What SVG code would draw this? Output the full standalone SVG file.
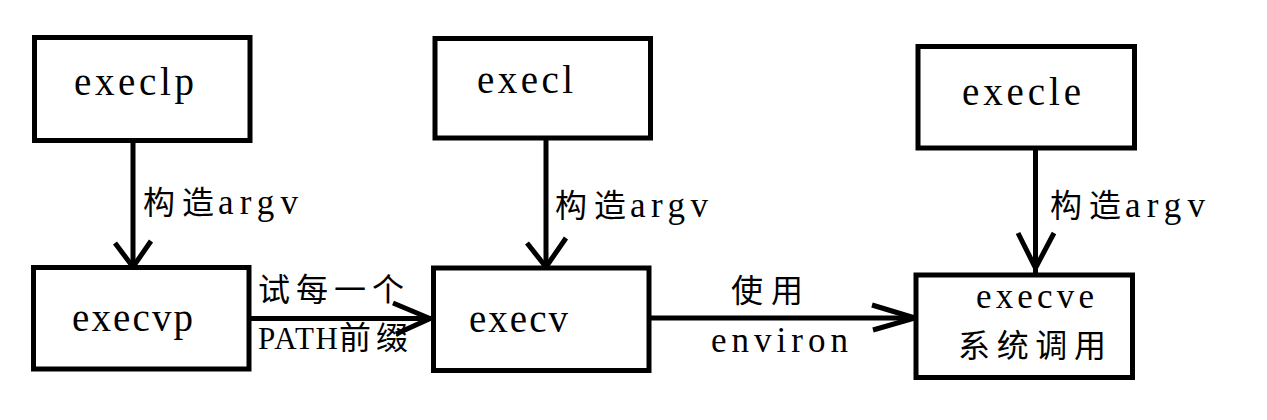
<svg xmlns="http://www.w3.org/2000/svg" width="1267" height="420" viewBox="0 0 1267 420">
<style>
.box{fill:#fff;stroke:#000;stroke-width:5}
.t{font-family:"Liberation Serif","Noto Sans CJK SC",serif;fill:#000}
.n{font-size:39px}
.l{font-size:32px}
.m{font-size:35px}
.p{font-size:31px}
.c{fill:none;stroke:#000;stroke-width:5}
</style>
<rect width="1267" height="420" fill="#fff"/>
<g id="connectors">
<line class="c" x1="133" y1="140" x2="133" y2="266"/>
<polyline class="c" points="115,243 133,267 151,241"/>
<line class="c" x1="546" y1="138" x2="546" y2="266"/>
<polyline class="c" points="527,243 546,267 566,238"/>
<line class="c" x1="1035.5" y1="148" x2="1035.5" y2="273"/>
<polyline class="c" points="1018,233 1035.5,268 1054,233"/>
<line class="c" x1="249" y1="318.5" x2="431" y2="318.5"/>
<polyline class="c" points="393,303 430,318.5 396,334"/>
<line class="c" x1="649" y1="318" x2="915" y2="318"/>
<polyline class="c" points="872,305 915,318 873,330"/>
<text class="t l" y="214"><tspan x="143" textLength="71" lengthAdjust="spacing">构造</tspan><tspan class="m" x="218" textLength="80" lengthAdjust="spacing">argv</tspan></text>
<text class="t l" y="217"><tspan x="555" textLength="71" lengthAdjust="spacing">构造</tspan><tspan class="m" x="630" textLength="78" lengthAdjust="spacing">argv</tspan></text>
<text class="t l" y="217"><tspan x="1050" textLength="71" lengthAdjust="spacing">构造</tspan><tspan class="m" x="1125" textLength="80" lengthAdjust="spacing">argv</tspan></text>
<text class="t l" x="258" y="301" textLength="146" lengthAdjust="spacing">试每一个</text>
<text class="t l" y="349"><tspan class="p" x="258" textLength="80" lengthAdjust="spacing">PATH</tspan><tspan x="339" textLength="69" lengthAdjust="spacing">前缀</tspan></text>
<text class="t l" x="731" y="302" textLength="72" lengthAdjust="spacing">使用</text>
<text class="t m" x="711" y="352" textLength="137" lengthAdjust="spacing">environ</text>
</g>
<g id="execlp">
<rect class="box" x="34.5" y="37.5" width="215.5" height="103"/>
<text class="t n" x="74" y="95" textLength="120" lengthAdjust="spacing">execlp</text>
</g>
<g id="execl">
<rect class="box" x="435" y="38.5" width="215.5" height="99.5"/>
<text class="t n" x="477" y="93" textLength="96" lengthAdjust="spacing">execl</text>
</g>
<g id="execle">
<rect class="box" x="918" y="46.5" width="216.5" height="101.5"/>
<text class="t n" x="962" y="105" textLength="119" lengthAdjust="spacing">execle</text>
</g>
<g id="execvp">
<rect class="box" x="33.5" y="267.5" width="215.5" height="101.5"/>
<text class="t n" x="72" y="331" textLength="121" lengthAdjust="spacing">execvp</text>
</g>
<g id="execv">
<rect class="box" x="433.5" y="268" width="215.5" height="102.5"/>
<text class="t n" x="469" y="332" textLength="99" lengthAdjust="spacing">execv</text>
</g>
<g id="execve">
<rect class="box" x="916" y="275" width="216.5" height="102.5"/>
<text class="t m" x="976" y="308" textLength="118" lengthAdjust="spacing">execve</text>
<text class="t l" x="958" y="357" textLength="148" lengthAdjust="spacing">系统调用</text>
</g>
</svg>
